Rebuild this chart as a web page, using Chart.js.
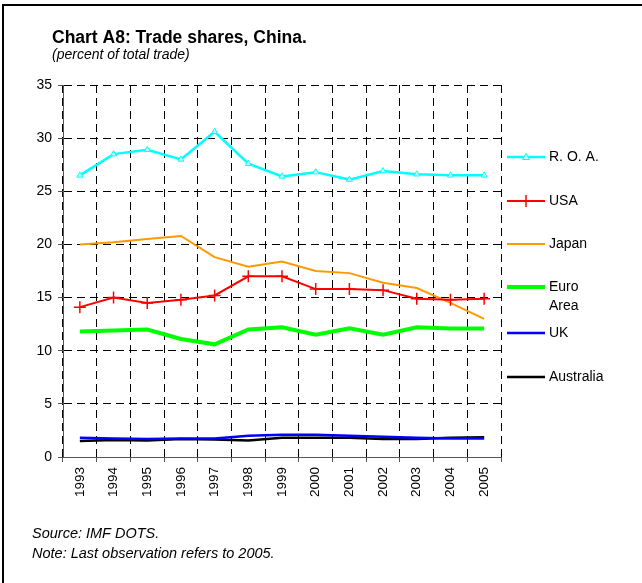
<!DOCTYPE html>
<html>
<head>
<meta charset="utf-8">
<script src="https://cdn.jsdelivr.net/npm/chart.js@4.4.0/dist/chart.umd.min.js"></script>
<style>
  body { margin: 0; background: #fff; }
  .chart-box { position: relative; width: 642px; height: 583px; }
</style>
</head>
<body>
<div class="chart-box"><canvas id="tradeChart"></canvas></div>
<script>
  // chart data
  let years = ["1993", "1994", "1995", "1996", "1997", "1998", "1999",
               "2000", "2001", "2002", "2003", "2004", "2005"];
  let roaShare = [26.5, 28.5, 28.9, 28.0, 30.6, 27.6, 26.4, 26.8, 26.1, 26.9, 26.6, 26.5, 26.5];
  let usaShare = [14.1, 15.0, 14.5, 14.8, 15.2, 17.0, 17.0, 15.8, 15.8, 15.7, 14.9, 14.8, 14.9];
  let japanShare = [20.0, 20.2, 20.5, 20.8, 18.8, 17.9, 18.4, 17.5, 17.3, 16.4, 15.9, 14.5, 13.0];
  let euroShare = [11.8, 11.9, 12.0, 11.1, 10.6, 12.0, 12.2, 11.5, 12.1, 11.5, 12.2, 12.1, 12.1];
  let ukShare = [1.8, 1.75, 1.7, 1.75, 1.75, 2.0, 2.1, 2.1, 2.0, 1.9, 1.8, 1.75, 1.75];
  let ausShare = [1.5, 1.6, 1.55, 1.7, 1.65, 1.55, 1.8, 1.8, 1.8, 1.7, 1.7, 1.8, 1.85];

  let chartTitle = "Chart A8: Trade shares, China.";
  let chartSubtitle = "(percent of total trade)";
  let chartNotes = ["Source: IMF DOTS.", "Note: Last observation refers to 2005."];

  let font = "'Liberation Sans', Arial, sans-serif";

  // series styles
  let series = [
    { label: ["R. O. A."], data: roaShare, color: "#00ffff", width: 2.5, point: "triangle" },
    { label: ["USA"], data: usaShare, color: "#ff0000", width: 2, point: "cross" },
    { label: ["Japan"], data: japanShare, color: "#ff9900", width: 2, point: false },
    { label: ["Euro", "Area"], data: euroShare, color: "#00ff00", width: 4, point: false },
    { label: ["UK"], data: ukShare, color: "#0000ff", width: 2.5, point: false },
    { label: ["Australia"], data: ausShare, color: "#000000", width: 2.5, point: false },
  ];

  // title, notes and frame
  const framePlugin = {
    id: "frame",
    beforeDraw(chart) {
      const ctx = chart.ctx;
      ctx.save();
      ctx.fillStyle = "#fff";
      ctx.fillRect(0, 0, chart.width, chart.height);
      ctx.fillStyle = "#000";
      ctx.fillRect(2, 4, chart.width - 2, 2);
      ctx.fillRect(2, 4, 2, chart.height - 4);
      ctx.textBaseline = "alphabetic";
      ctx.textAlign = "left";
      ctx.font = "bold 17.5px " + font;
      ctx.fillText(chartTitle, 52, 43);
      ctx.font = "italic 14px " + font;
      ctx.fillText(chartSubtitle, 52, 58.5);
      ctx.font = "italic 14.5px " + font;
      ctx.fillText(chartNotes[0], 32, 538);
      ctx.fillText(chartNotes[1], 32, 558);
      ctx.restore();
    }
  };

  // legend drawn at the right side
  const sideLegend = {
    id: "sideLegend",
    afterDraw(chart) {
      const ctx = chart.ctx;
      const a = chart.chartArea;
      const rows = [72, 116, 159, 202, 248, 292];
      ctx.save();
      series.forEach((s, i) => {
        const y = a.top + rows[i];
        const x0 = a.right + 6, x1 = a.right + 44;
        ctx.strokeStyle = s.color;
        ctx.lineWidth = s.width;
        ctx.beginPath();
        ctx.moveTo(x0, y);
        ctx.lineTo(x1, y);
        ctx.stroke();
        const mx = (x0 + x1) / 2;
        if (s.point === "triangle") {
          ctx.lineWidth = 1;
          ctx.fillStyle = "#ccffff";
          ctx.beginPath();
          ctx.moveTo(mx, y - 3.5);
          ctx.lineTo(mx + 3.5, y + 2.5);
          ctx.lineTo(mx - 3.5, y + 2.5);
          ctx.closePath();
          ctx.fill();
          ctx.stroke();
        } else if (s.point === "cross") {
          ctx.lineWidth = 1.5;
          ctx.beginPath();
          ctx.moveTo(mx, y - 6);
          ctx.lineTo(mx, y + 6);
          ctx.stroke();
        }
        ctx.fillStyle = "#000";
        ctx.font = "14px " + font;
        ctx.textBaseline = "middle";
        s.label.forEach((t, k) => ctx.fillText(t, x1 + 4, y + k * 19));
      });
      ctx.restore();
    }
  };

  const ctx = document.getElementById("tradeChart").getContext("2d");
  new Chart(ctx, {
    type: "line",
    data: {
      labels: years,
      datasets: series.map(s => ({
        label: s.label.join(" "),
        data: s.data,
        borderColor: s.color,
        backgroundColor: s.color,
        borderWidth: s.width,
        tension: 0,
        pointStyle: s.point || "circle",
        pointRadius: s.point === "triangle" ? 3.5 : (s.point === "cross" ? 6 : 0),
        pointBorderWidth: s.point === "cross" ? 1.5 : 1,
        pointBackgroundColor: s.point === "triangle" ? "#ccffff" : s.color,
        pointBorderColor: s.color,
      })),
    },
    options: {
      responsive: true,
      maintainAspectRatio: false,
      animation: false,
      layout: { padding: { top: 85, right: 141, left: 0, bottom: 0 } },
      plugins: {
        legend: { display: false },
        tooltip: { enabled: false },
      },
      scales: {
        x: {
          offset: true,
          grid: {
            offset: true,
            color: "#000",
            lineWidth: 1,
            tickLength: 5,
            tickColor: "#555",
          },
          border: { display: true, color: "#555", width: 1, dash: [8, 5] },
          ticks: {
            color: "#000",
            font: { family: font, size: 13.5 },
            minRotation: 90,
            maxRotation: 90,
            padding: 5,
            autoSkip: false,
          },
          afterFit(scale) { scale.height = 126; },
        },
        y: {
          min: 0,
          max: 35,
          grid: {
            color: "#000",
            lineWidth: 1,
            tickLength: 5,
            tickColor: "#555",
          },
          border: { display: true, color: "#555", width: 1, dash: [8, 5] },
          ticks: {
            stepSize: 5,
            color: "#000",
            font: { family: font, size: 14 },
            padding: 6,
          },
          afterFit(scale) { scale.width = 63; },
        },
      },
    },
    plugins: [framePlugin, sideLegend],
  });
</script>
</body>
</html>
